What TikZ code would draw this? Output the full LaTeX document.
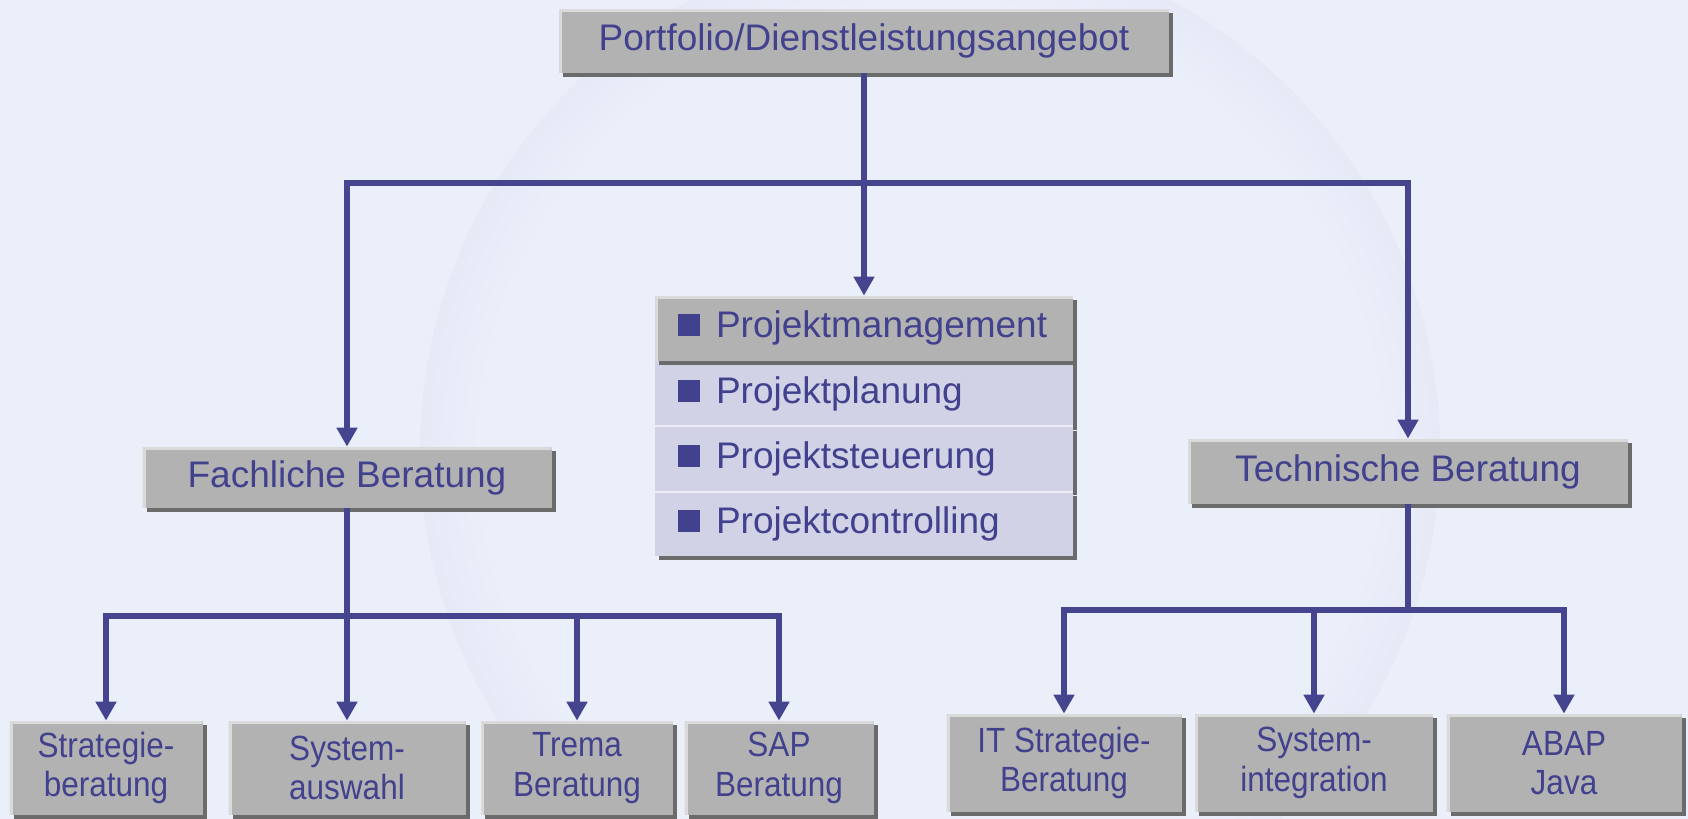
\documentclass[tikz,border=0pt]{standalone}
\usepackage{fontspec}
\setmainfont{Liberation Sans}
\newfontfamily\pfnarrow[FakeStretch=0.9]{Liberation Sans}
\usetikzlibrary{arrows.meta,positioning,shadows}
\definecolor{pfbg}{HTML}{EBEFFA}
\definecolor{pfring}{HTML}{D2D6EA}
\definecolor{pfgray}{HTML}{B2B2B2}
\definecolor{pfshadow}{HTML}{6B6B6B}
\definecolor{pflight}{HTML}{DADADA}
\definecolor{pfrow}{HTML}{D1D2E5}
\definecolor{pftext}{HTML}{41418E}
\definecolor{pfline}{HTML}{45458F}
\pgfdeclareradialshading{swirl}{\pgfpointorigin}{color(0bp)=(pfbg); color(22bp)=(pfbg); color(36bp)=(pfring); color(44bp)=(pfring!60!pfbg); color(50bp)=(pfbg)}
\newcommand{\pfbullet}{\raisebox{0.8pt}{\rule{11pt}{11pt}}\hspace{8pt}}
\tikzset{
  box/.style={fill=pfgray,text=pftext,inner sep=0pt,align=center,font=\fontsize{18.5}{22}\selectfont,
    drop shadow={shadow xshift=2pt,shadow yshift=-2pt,fill=pfshadow,opacity=1},
    path picture={\draw[pflight,line width=3pt](path picture bounding box.south west)|-(path picture bounding box.north east);}},
  leaf/.style={box,font=\pfnarrow\fontsize{17.5}{19.75}\selectfont,minimum height=47pt},
  item/.style={box,minimum width=209pt,minimum height=32.25pt,text width=186pt,align=left,inner xsep=11.5pt},
  subitem/.style={item,fill=pfrow,path picture={}},
  sep/.style={draw=white!60!pfrow,line width=1pt},
  ar/.style={-{Triangle[width=10pt,length=9.5pt]},draw=pfline,line width=3pt},
  ln/.style={draw=pfline,line width=3pt},
}
\begin{document}
\begin{tikzpicture}[x=0.5pt,y=-0.5pt]
    \useasboundingbox (0,0) rectangle (1688,819);
    \fill[pfbg] (0,0) rectangle (1688,819);
    \shade[shading=swirl] (930,450) circle (510);
    \node[box,minimum width=305pt,minimum height=32pt] (top) at (864,41) {Portfolio/Dienstleistungsangebot};
    \node[box,minimum width=204.5pt,minimum height=30.5pt] (fach) at (347,477.5) {Fachliche Beratung};
    \node[box,minimum width=220pt,minimum height=32.5pt] (tech) at (1408,471.5) {Technische Beratung};
    \node[item] (pm) at (864,328.25) {\pfbullet Projektmanagement};
    \node[subitem,below=0pt of pm] (pp) {\pfbullet Projektplanung};
    \node[subitem,below=0pt of pp] (ps) {\pfbullet Projektsteuerung};
    \node[subitem,below=0pt of ps] (pc) {\pfbullet Projektcontrolling};
    \fill[pfshadow] ([xshift=2pt]pm.south west) rectangle ([yshift=-2pt]pm.south east);
    \draw[sep] (ps.north west) -- (ps.north east);
    \draw[sep] (pc.north west) -- (pc.north east);
    \node[leaf,minimum width=96.5pt] (s1) at (106,768) {Strategie-\\beratung};
    \node[leaf,minimum width=118.5pt] (s2) at (347,768) {System-\\auswahl};
    \node[leaf,minimum width=96pt] (s3) at (577,768) {Trema\\Beratung};
    \node[leaf,minimum width=94.5pt] (s4) at (779,768) {SAP\\Beratung};
    \node[leaf,minimum width=117.5pt,minimum height=49pt] (t1) at (1064,763) {IT Strategie-\\Beratung};
    \node[leaf,minimum width=119pt,minimum height=49pt] (t2) at (1314,763) {System-\\integration};
    \node[leaf,minimum width=117.5pt,minimum height=49pt] (t3) at (1564,763) {ABAP\\Java};
    \coordinate (hub) at (864,183);
    \coordinate (fhub) at (347,616);
    \coordinate (thub) at (1408,610);
    \draw[ln] (top) -- (hub);
    \draw[ar] (hub) -- (pm);
    \draw[ar] (hub) -| (fach);
    \draw[ar] (hub) -| (tech);
    \draw[ln] (fach) -- (fhub);
    \foreach \n in {s1,s2,s3,s4} \draw[ar] (fhub) -| (\n);
    \draw[ln] (tech) -- (thub);
    \foreach \n in {t1,t2,t3} \draw[ar] (thub) -| (\n);
\end{tikzpicture}
\end{document}
